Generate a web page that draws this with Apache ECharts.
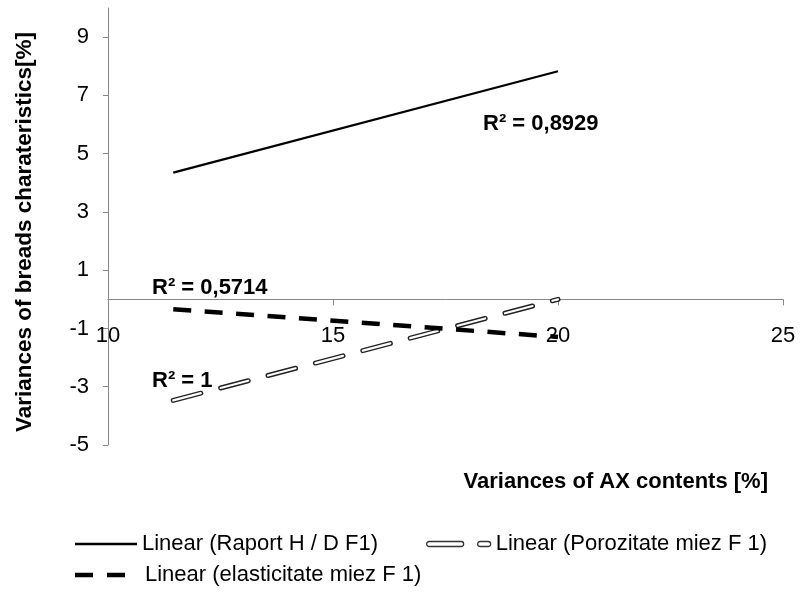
<!DOCTYPE html>
<html>
<head>
<meta charset="utf-8">
<script src="https://cdn.jsdelivr.net/npm/echarts@6/dist/echarts.min.js"></script>
<style>
  html, body { margin: 0; padding: 0; background: #fff; }
  #chart { width: 800px; height: 593px; }
</style>
</head>
<body>
<div id="chart"></div>
<script>
// ---- data ----
var xValues = [11.45, 20];
var raportHD = [4.35, 7.83];
var porozitate = [-3.47, 0];
var elasticitate = [-0.34, -1.29];
var yTickValues = [-5, -3, -1, 1, 3, 5, 7, 9];
var seriesNames = ['Linear (Raport H / D F1)', 'Linear (Porozitate miez F 1)', 'Linear (elasticitate miez F 1)'];
var r2Labels = ['R² = 0,8929', 'R² = 0,5714', 'R² = 1'];
var xAxisTitle = 'Variances of AX contents [%]';
var yAxisTitle = 'Variances of breads charateristics[%]';

function pairs(xs, ys) { return xs.map(function (x, i) { return [x, ys[i]]; }); }

var FONT = 'Liberation Sans, Arial, sans-serif';
var chart = echarts.init(document.getElementById('chart'), null, { renderer: 'canvas' });

var Y_MIN = -5, Y_MAX = 10;
var GRID_TOP = 8, GRID_BOTTOM = 148, CHART_H = 593;
var gridH = CHART_H - GRID_TOP - GRID_BOTTOM;
// x axis crosses the y axis at 0
var xAxisOffset = -gridH * (0 - Y_MIN) / (Y_MAX - Y_MIN);

var solidIcon = 'path://M0,0 H62 V2.5 H0 Z';
var porozIcon = 'path://M2.5,0 H34.5 A2.5,2.5 0 0 1 34.5,5 H2.5 A2.5,2.5 0 0 1 2.5,0 Z M53.5,0 H61.5 A2.5,2.5 0 0 1 61.5,5 H53.5 A2.5,2.5 0 0 1 53.5,0 Z';
var dashIcon = 'path://M0,0 H18 V4.5 H0 Z M32,0 H50 V4.5 H32 Z';

var legendText = { color: '#000', fontSize: 22, fontFamily: FONT, lineHeight: 24 };

var option = {
  animation: false,
  backgroundColor: '#fff',
  textStyle: { fontFamily: FONT },
  grid: { left: 108, right: 17, top: GRID_TOP, bottom: GRID_BOTTOM, containLabel: false },
  xAxis: {
    type: 'value', min: 10, max: 25, interval: 5,
    position: 'bottom', offset: xAxisOffset,
    axisLine: { onZero: false, lineStyle: { color: '#878787', width: 1 } },
    axisTick: { length: 6, lineStyle: { color: '#878787' } },
    axisLabel: { color: '#000', fontSize: 22, fontFamily: FONT, margin: 26 },
    splitLine: { show: false }
  },
  yAxis: {
    type: 'value', min: Y_MIN, max: Y_MAX,
    axisLine: { show: true, onZero: false, lineStyle: { color: '#878787', width: 1 } },
    axisTick: { show: true, length: 5, customValues: yTickValues, lineStyle: { color: '#878787' } },
    axisLabel: { color: '#000', fontSize: 22, fontFamily: FONT, margin: 19, customValues: yTickValues },
    splitLine: { show: false }
  },
  legend: [
    {
      left: 75, top: 532, padding: 0, itemWidth: 62, itemHeight: 2.5,
      textStyle: legendText,
      data: [{ name: seriesNames[0], icon: solidIcon, itemStyle: { color: '#000', borderWidth: 0 } }]
    },
    {
      left: 426, top: 532, padding: 0, itemWidth: 64, itemHeight: 5,
      textStyle: legendText,
      data: [{ name: seriesNames[1], icon: porozIcon, itemStyle: { color: '#fff', borderColor: '#333', borderWidth: 1.3 } }]
    },
    {
      left: 75, top: 563, padding: 0, itemWidth: 50, itemHeight: 4.5,
      textStyle: Object.assign({}, legendText, { padding: [0, 0, 0, 15] }),
      data: [{ name: seriesNames[2], icon: dashIcon, itemStyle: { color: '#000', borderWidth: 0 } }]
    }
  ],
  series: [
    {
      name: seriesNames[0], type: 'line', data: pairs(xValues, raportHD),
      symbol: 'none', lineStyle: { color: '#000', width: 2.25 }, itemStyle: { color: '#000' }, z: 3
    },
    {
      name: seriesNames[1], type: 'line', data: pairs(xValues, porozitate),
      symbol: 'none', lineStyle: { color: '#222', width: 5, type: [28.5, 20.5], cap: 'round' },
      itemStyle: { color: '#222' }, z: 3
    },
    {
      name: seriesNames[1], type: 'line', data: pairs(xValues, porozitate),
      symbol: 'none', lineStyle: { color: '#fff', width: 2.2, type: [28.5, 20.5], cap: 'round' },
      itemStyle: { color: '#fff' }, z: 4
    },
    {
      name: seriesNames[2], type: 'line', data: pairs(xValues, elasticitate),
      symbol: 'none', lineStyle: { color: '#000', width: 4.5, type: [18, 13.5], cap: 'butt' },
      itemStyle: { color: '#000' }, z: 5
    }
  ],
  graphic: [
    { type: 'text', x: 483, y: 124, z: 10, style: { text: r2Labels[0], font: 'bold 22px ' + FONT, fill: '#000', verticalAlign: 'middle', align: 'left' } },
    { type: 'text', x: 152, y: 288, z: 10, style: { text: r2Labels[1], font: 'bold 22px ' + FONT, fill: '#000', verticalAlign: 'middle', align: 'left' } },
    { type: 'text', x: 152, y: 381, z: 10, style: { text: r2Labels[2], font: 'bold 22px ' + FONT, fill: '#000', verticalAlign: 'middle', align: 'left' } },
    { type: 'text', x: 768, y: 482, z: 10, style: { text: xAxisTitle, font: 'bold 22px ' + FONT, fill: '#000', verticalAlign: 'middle', align: 'right' } },
    { type: 'text', x: 25, y: 232, rotation: Math.PI / 2, z: 10, style: { text: yAxisTitle, font: 'bold 22.5px ' + FONT, fill: '#000', verticalAlign: 'middle', align: 'center' } }
  ]
};
chart.setOption(option);
</script>
</body>
</html>
